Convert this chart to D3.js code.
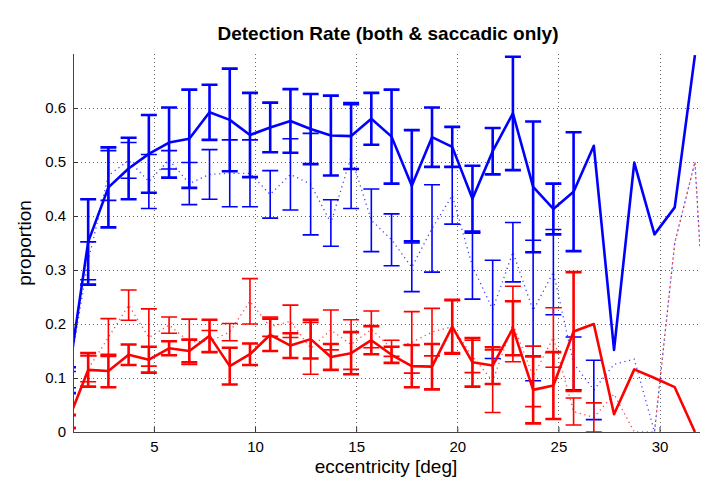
<!DOCTYPE html>
<html><head><meta charset="utf-8">
<script src="https://cdn.jsdelivr.net/npm/d3@7"></script>
<style>
body{margin:0;background:#fff}
svg{display:block}
text{font-family:"Liberation Sans",Arial,Helvetica,sans-serif}
</style>
</head><body><svg id="c" width="702" height="486"></svg>
<script>
// ---- data ----
const ecc = [0.75,1.75,2.75,3.75,4.75,5.75,6.75,7.75,8.75,9.75,10.75,11.75,12.75,13.75,14.75,15.75,16.75,17.75,18.75,19.75,20.75,21.75,22.75,23.75,24.75,25.75,26.75,27.75,28.75,29.75,30.75,31.75];
const bothMean = [0.096,0.352,0.453,0.488,0.515,0.536,0.543,0.592,0.578,0.550,0.564,0.576,0.561,0.549,0.548,0.580,0.547,0.456,0.546,0.528,0.432,0.520,0.590,0.454,0.413,0.445,0.530,0.152,0.499,0.366,0.416,0.698];
const bothErr  = [0.024,0.079,0.074,0.057,0.072,0.065,0.091,0.051,0.095,0.078,0.046,0.059,0.065,0.074,0.061,0.048,0.087,0.103,0.055,0.037,0.061,0.043,0.105,0.121,0.047,0.110,null,null,null,null,null,null];
const bothAlt  = [0.097,0.317,0.475,0.503,0.464,0.504,0.460,0.477,0.479,0.479,0.440,0.477,0.459,0.387,0.510,0.392,0.356,0.305,0.377,0.438,0.307,0.227,0.333,0.225,0.296,0.127,0.078,0.125,0.135,0.000,0.350,0.500];
const bothAltErr = [0.015,0.035,0.046,0.033,0.050,0.017,0.039,0.046,0.062,0.062,0.044,0.066,0.094,0.043,0.096,0.058,0.048,0.045,0.081,0.053,0.061,0.091,0.055,0.130,0.079,0.049,0.055,null,null,null,null,null];
const saccMean = [0.020,0.115,0.113,0.143,0.134,0.155,0.150,0.178,0.122,0.144,0.180,0.160,0.172,0.139,0.146,0.170,0.143,0.122,0.121,0.195,0.129,0.123,0.192,0.078,0.086,0.186,0.200,0.033,0.116,0.100,0.083,0.000];
const saccErr  = [0.012,0.031,0.030,0.019,0.024,0.013,0.021,0.030,0.034,0.020,0.030,0.023,0.036,0.024,0.039,0.026,0.015,0.039,0.042,0.050,0.045,0.034,0.050,0.062,0.062,0.110,null,null,null,null,null,null];
const saccAlt  = [0.018,0.117,0.175,0.235,0.175,0.198,0.167,0.168,0.185,0.242,0.195,0.205,0.155,0.189,0.162,0.190,0.155,0.166,0.185,0.195,0.140,0.094,0.200,0.103,0.175,0.038,0.027,0.070,0.000,0.000,0.350,0.500];
const saccAltErr = [0.012,0.024,0.035,0.028,0.053,0.015,0.042,0.020,0.016,0.042,0.018,0.030,0.048,0.037,0.046,0.034,0.015,0.057,0.044,0.048,0.030,0.058,0.070,0.056,0.055,0.025,0.027,null,null,null,null,null];
const altTailX = [32.0];
const bothAltTail = [0.34];
const saccAltTail = [0.34];
const xTicks = [5,10,15,20,25,30];
const yTicks = [0,0.1,0.2,0.3,0.4,0.5,0.6];

// ---- layout ----
const L=73, R=700, T=54, B=432;
const svg = d3.select("#c");
const x = d3.scaleLinear().domain([1,32]).range([L,R]);
const y = d3.scaleLinear().domain([0,0.7]).range([B,T]);

svg.append("defs").append("clipPath").attr("id","clip")
  .append("rect").attr("x",L).attr("y",T).attr("width",R-L).attr("height",B-T+1);

// grid
const grid = svg.append("g").attr("stroke","#666").attr("stroke-width",1).attr("stroke-dasharray","1,3");
grid.selectAll("line.v").data(xTicks).join("line")
  .attr("x1",d=>Math.round(x(d))+0.5).attr("x2",d=>Math.round(x(d))+0.5).attr("y1",T).attr("y2",B);
grid.selectAll("line.h").data(yTicks.filter(d=>d>0)).join("line")
  .attr("y1",d=>Math.round(y(d))+0.5).attr("y2",d=>Math.round(y(d))+0.5).attr("x1",L).attr("x2",R);

const plot = svg.append("g").attr("clip-path","url(#clip)");

function pts(xs, ys){ return xs.map((v,i)=>[v, ys[i]]); }
const lineGen = d3.line().x(d=>x(d[0])).y(d=>y(d[1]));

function errBars(vals, errs, color, w){
  const data = vals.map((v,i)=>({x:ecc[i], v, e:errs[i]})).filter(d=>d.e!=null);
  const g = plot.append("g").attr("stroke",color).attr("stroke-width",w).attr("fill","none");
  g.selectAll("path").data(data).join("path")
    .attr("d", d=>{
      const cx=x(d.x), y1=y(d.v-d.e), y2=y(d.v+d.e), c=8;
      return `M${cx},${y1}V${y2}M${cx-c},${y1}H${cx+c}M${cx-c},${y2}H${cx+c}`;
    });
}

// dotted (alt) lines
function dotted(vals, tail, color){
  plot.append("path").datum(pts(ecc.concat(altTailX), vals.concat(tail)))
    .attr("d", lineGen).attr("fill","none").attr("stroke",color)
    .attr("stroke-width",1.3).attr("stroke-dasharray","1.2,3.6").attr("opacity",0.75);
}
dotted(bothAlt, bothAltTail, "#0000ff");
dotted(saccAlt, saccAltTail, "#ff0000");

errBars(bothAlt, bothAltErr, "#0000ff", 1.6);
errBars(bothMean, bothErr, "#0000ff", 2.6);
errBars(saccAlt, saccAltErr, "#ff0000", 1.6);
errBars(saccMean, saccErr, "#ff0000", 2.6);

plot.append("path").datum(pts(ecc, bothMean)).attr("d", lineGen)
  .attr("fill","none").attr("stroke","#0000ff").attr("stroke-width",2.6).attr("stroke-linejoin","round");
plot.append("path").datum(pts(ecc, saccMean)).attr("d", lineGen)
  .attr("fill","none").attr("stroke","#ff0000").attr("stroke-width",2.6).attr("stroke-linejoin","round");

// axes
const fmt = d=> d===0 ? "0" : d3.format(".1f")(d);
const ax = svg.append("g").attr("transform",`translate(${L},0)`)
  .call(d3.axisLeft(y).tickValues(yTicks).tickFormat(fmt).tickSize(-5).tickPadding(7));
const bx = svg.append("g").attr("transform",`translate(0,${B})`)
  .call(d3.axisBottom(x).tickValues(xTicks).tickSize(-5).tickPadding(9));
[ax,bx].forEach(g=>{
  g.select(".domain").remove();
  g.selectAll(".tick line").attr("stroke","#333");
  g.selectAll("text").attr("font-size",15).attr("fill","#000")
    .attr("font-family","'Liberation Sans',Arial,sans-serif");
});
svg.append("line").attr("x1",L+0.5).attr("x2",L+0.5).attr("y1",T).attr("y2",B+0.5).attr("stroke","#444");
svg.append("line").attr("x1",L).attr("x2",R).attr("y1",B+0.5).attr("y2",B+0.5).attr("stroke","#444");

// labels
svg.append("text").attr("x",388).attr("y",40).attr("text-anchor","middle")
  .attr("font-size",19).attr("font-weight","bold").text("Detection Rate (both & saccadic only)");
svg.append("text").attr("x",386).attr("y",473).attr("text-anchor","middle")
  .attr("font-size",19).text("eccentricity [deg]");
svg.append("text").attr("transform","translate(31,243) rotate(-90)").attr("text-anchor","middle")
  .attr("font-size",19).text("proportion");
</script>
</body></html>
